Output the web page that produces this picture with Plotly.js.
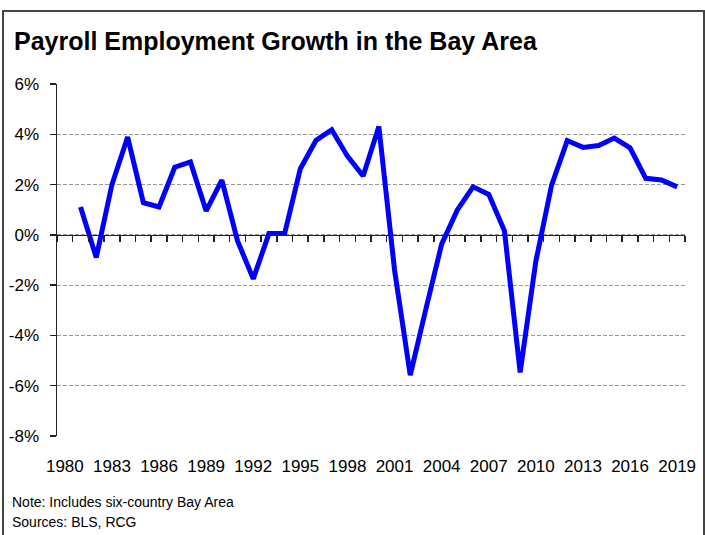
<!DOCTYPE html>
<html>
<head>
<meta charset="utf-8">
<script src="https://cdn.plot.ly/plotly-3.0.1.min.js"></script>
<style>
  html, body { margin: 0; padding: 0; background: #fff; }
  #wrap { position: relative; width: 705px; height: 535px; overflow: hidden; }
  #chart { width: 705px; height: 535px; }
  #frame { position: absolute; left: 2px; top: 10px; width: 699px; height: 540px;
           border: 2px solid #444; pointer-events: none; }
</style>
</head>
<body>
<div id="wrap">
  <div id="chart"></div>
  <div id="frame"></div>
</div>
<script>
// Data (annual % change in payroll employment)
const years = [1981, 1982, 1983, 1984, 1985, 1986, 1987, 1988, 1989, 1990,
               1991, 1992, 1993, 1994, 1995, 1996, 1997, 1998, 1999, 2000,
               2001, 2002, 2003, 2004, 2005, 2006, 2007, 2008, 2009, 2010,
               2011, 2012, 2013, 2014, 2015, 2016, 2017, 2018, 2019];
const growth = [1.11, -0.90, 2.00, 3.89, 1.28, 1.11, 2.69, 2.90, 0.95, 2.18,
                -0.24, -1.75, 0.05, 0.05, 2.63, 3.76, 4.18, 3.13, 2.34, 4.31,
                -1.40, -5.58, -2.94, -0.37, 0.99, 1.91, 1.61, 0.16, -5.47, -1.05,
                1.97, 3.75, 3.48, 3.55, 3.85, 3.46, 2.25, 2.18, 1.91];
const xTickLabels = [1980, 1983, 1986, 1989, 1992, 1995, 1998, 2001, 2004, 2007, 2010, 2013, 2016, 2019];
const yTickVals = [-8, -6, -4, -2, 0, 2, 4, 6];
const titleText = "Payroll Employment Growth in the Bay Area";
const noteLines = ["Note: Includes six-country Bay Area", "Sources: BLS, RCG"];

// category boundaries for the tick marks on the zero line
const firstCat = 1980, lastCat = 2019;
const boundaries = [];
for (let y = firstCat; y <= lastCat + 1; y++) boundaries.push(y - 0.5);

const FONT = "'Liberation Sans Narrow', 'Arial Narrow', 'Liberation Sans', Arial, sans-serif";

const trace = {
  x: years, y: growth, type: 'scatter', mode: 'lines',
  line: { color: '#0000FF', width: 5, shape: 'linear' },
  hoverinfo: 'x+y', showlegend: false
};

const yMin = -8, yMax = 6;

const layout = {
  width: 705, height: 535,
  margin: { l: 57, r: 20, t: 84, b: 99 },
  paper_bgcolor: '#fff', plot_bgcolor: '#fff',
  font: { family: FONT, color: '#000', size: 17 },
  title: {
    text: '<b>' + titleText + '</b>',
    font: { family: FONT, size: 25, color: '#000' },
    xref: 'container', yref: 'container',
    x: 14 / 705, xanchor: 'left',
    y: 1 - 41 / 535, yanchor: 'middle'
  },
  xaxis: {
    range: [firstCat - 0.5, lastCat + 0.5],
    tickvals: xTickLabels, ticktext: xTickLabels.map(String),
    ticks: 'outside', ticklen: 15, tickcolor: 'rgba(0,0,0,0)',
    showline: false, showgrid: false, zeroline: false,
    tickfont: { family: FONT, size: 17, color: '#000' },
    fixedrange: true
  },
  xaxis2: {
    overlaying: 'x', anchor: 'free', side: 'bottom',
    position: (0 - yMin) / (yMax - yMin),
    range: [firstCat - 0.5, lastCat + 0.5],
    tickvals: boundaries, showticklabels: false,
    ticks: 'outside', ticklen: 6, tickwidth: 1.5, tickcolor: '#222',
    showline: true, linecolor: '#222', linewidth: 1.5,
    showgrid: false, zeroline: false, fixedrange: true
  },
  yaxis: {
    range: [yMin, yMax],
    tickvals: yTickVals, ticktext: yTickVals.map(v => v + '%'),
    ticks: 'outside', ticklen: 6, tickwidth: 1.5, tickcolor: '#222',
    showline: true, linecolor: '#222', linewidth: 1.5,
    showgrid: true, gridcolor: '#999', gridwidth: 1, griddash: '4px,2px',
    zeroline: false, ticklabelstandoff: 7,
    tickfont: { family: FONT, size: 17, color: '#000' },
    fixedrange: true
  },
  annotations: [
    { text: noteLines[0], xref: 'paper', yref: 'paper',
      x: (10 - 57) / 628, y: 1 - (502 - 84) / 352, xanchor: 'left', yanchor: 'middle',
      showarrow: false, font: { family: FONT, size: 14, color: '#000' } },
    { text: noteLines[1], xref: 'paper', yref: 'paper',
      x: (10 - 57) / 628, y: 1 - (522 - 84) / 352, xanchor: 'left', yanchor: 'middle',
      showarrow: false, font: { family: FONT, size: 14, color: '#000' } }
  ],
  showlegend: false
};

// invisible helper trace so the zero-line category axis (xaxis2) is drawn
const axisTrace = { x: [firstCat], y: [0], xaxis: 'x2', yaxis: 'y', mode: 'markers',
  marker: { opacity: 0 }, hoverinfo: 'skip', showlegend: false };

Plotly.newPlot('chart', [axisTrace, trace], layout, { displayModeBar: false, staticPlot: true });
</script>
</body>
</html>
